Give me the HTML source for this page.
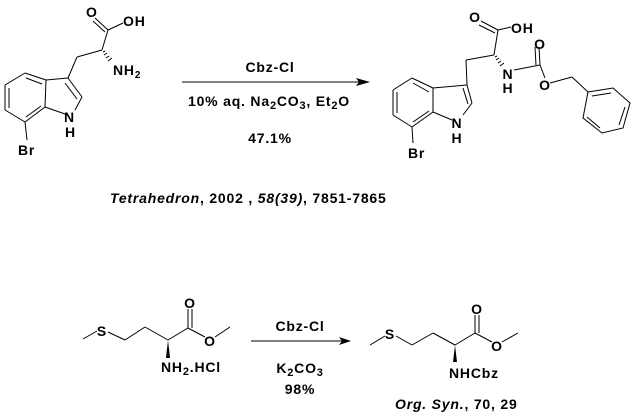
<!DOCTYPE html>
<html><head><meta charset="utf-8"><style>
html,body{margin:0;padding:0;background:#fff}
svg{display:block}
text{font-family:"Liberation Sans",Arial,sans-serif;font-size:14px;fill:#000}
.b{font-weight:bold;font-size:14px;letter-spacing:0.8px}
</style></head><body>
<svg width="636" height="417" viewBox="0 0 636 417" xmlns="http://www.w3.org/2000/svg">
<g stroke="#000" stroke-width="1" fill="none">
<line x1="95" y1="18" x2="108" y2="30"/><line x1="93" y1="21" x2="105" y2="32"/>
<line x1="108" y1="30" x2="123" y2="23"/>
<line x1="108" y1="30" x2="102" y2="50"/>
<line x1="102" y1="50" x2="77" y2="57"/>
<line x1="77" y1="57" x2="68" y2="78"/>
<line x1="68" y1="78" x2="82" y2="97"/><line x1="65" y1="83" x2="77" y2="99"/>
<line x1="82" y1="97" x2="75" y2="110"/>
<line x1="65" y1="114" x2="45" y2="107"/>
<line x1="45" y1="107" x2="46" y2="80"/>
<line x1="46" y1="80" x2="68" y2="78"/>
<line x1="46" y1="80" x2="25" y2="73"/><line x1="42" y1="84" x2="26" y2="78"/>
<line x1="25" y1="73" x2="5" y2="85"/>
<line x1="5" y1="85" x2="5" y2="110"/><line x1="9" y1="88" x2="9" y2="108"/>
<line x1="5" y1="110" x2="25" y2="122"/>
<line x1="25" y1="122" x2="45" y2="107"/><line x1="26" y1="117" x2="41" y2="106"/>
<line x1="25" y1="122" x2="27" y2="140"/>
<line x1="182" y1="82" x2="362" y2="82"/>
<line x1="481" y1="21" x2="498" y2="30"/><line x1="479" y1="25" x2="495" y2="33"/>
<line x1="498" y1="30" x2="511" y2="27"/>
<line x1="498" y1="30" x2="494" y2="55"/>
<line x1="494" y1="55" x2="466" y2="60"/>
<line x1="466" y1="60" x2="467" y2="85"/>
<line x1="467" y1="85" x2="472" y2="103"/><line x1="463" y1="88" x2="468" y2="104"/>
<line x1="472" y1="103" x2="463" y2="115"/>
<line x1="452" y1="120" x2="433" y2="112"/>
<line x1="433" y1="112" x2="433" y2="88"/>
<line x1="433" y1="88" x2="467" y2="85"/>
<line x1="433" y1="88" x2="412" y2="78"/><line x1="429" y1="92" x2="413" y2="83"/>
<line x1="412" y1="78" x2="393" y2="90"/>
<line x1="393" y1="90" x2="393" y2="115"/><line x1="397" y1="92" x2="397" y2="113"/>
<line x1="393" y1="115" x2="412" y2="127"/>
<line x1="412" y1="127" x2="433" y2="112"/><line x1="413" y1="122" x2="429" y2="111"/>
<line x1="412" y1="127" x2="413" y2="143"/>
<line x1="514" y1="70" x2="540" y2="65"/>
<line x1="540" y1="65" x2="539" y2="47"/><line x1="536" y1="65" x2="535" y2="47"/>
<line x1="540" y1="65" x2="545" y2="78"/>
<line x1="550" y1="83" x2="572" y2="77"/>
<line x1="572" y1="77" x2="588" y2="92"/>
<polygon points="588,92 613,88 630,103 623,128 602,133 583,118"/>
<line x1="592" y1="96" x2="611" y2="93"/>
<line x1="625" y1="107" x2="619" y2="125"/>
<line x1="600" y1="128" x2="587" y2="117"/>
<line x1="83" y1="339" x2="97" y2="331"/>
<line x1="108" y1="332" x2="125" y2="340"/>
<line x1="125" y1="340" x2="145" y2="327"/>
<line x1="145" y1="327" x2="168" y2="340"/>
<line x1="168" y1="340" x2="188" y2="328"/>
<line x1="188" y1="328" x2="188" y2="309"/><line x1="192" y1="328" x2="192" y2="309"/>
<line x1="188" y1="328" x2="205" y2="337"/>
<line x1="215" y1="337" x2="230" y2="327"/>
<line x1="251" y1="341" x2="344" y2="341"/>
<line x1="370" y1="345" x2="385" y2="336"/>
<line x1="396" y1="336" x2="412" y2="345"/>
<line x1="412" y1="345" x2="433" y2="333"/>
<line x1="433" y1="333" x2="455" y2="345"/>
<line x1="455" y1="345" x2="475" y2="333"/>
<line x1="475" y1="333" x2="475" y2="315"/><line x1="479" y1="333" x2="479" y2="315"/>
<line x1="475" y1="333" x2="492" y2="342"/>
<line x1="502" y1="342" x2="518" y2="333"/>
</g>
<g stroke="#000" stroke-width="1">
<line x1="103" y1="52" x2="105" y2="51"/><line x1="104" y1="55" x2="107" y2="53"/><line x1="106" y1="58" x2="109" y2="56"/><line x1="108" y1="61" x2="112" y2="58"/>
<line x1="495" y1="57" x2="497" y2="56"/><line x1="496" y1="60" x2="499" y2="58"/><line x1="498" y1="63" x2="501" y2="61"/><line x1="500" y1="66" x2="504" y2="63"/>
</g>
<polygon points="168,340 166,358 170,358" fill="#000"/>
<polygon points="455,345 453,362 457,362" fill="#000"/>
<polygon points="370,82 356,78 359,82 356,86" fill="#000"/>
<polygon points="351,341 339,337 342,341 339,345" fill="#000"/>
<text x="86" y="17" class="b">O</text>
<text x="123" y="26" class="b">OH</text>
<text x="113" y="75" class="b">NH<tspan font-size="10" dy="3">2</tspan></text>
<text x="64" y="122" class="b">N</text>
<text x="65" y="137" class="b">H</text>
<text x="18" y="155" class="b">Br</text>

<text x="270" y="72" class="b" text-anchor="middle">Cbz-Cl</text>
<text x="188" y="106" class="b">10% aq. Na<tspan font-size="11" dy="3">2</tspan><tspan dy="-3">CO</tspan><tspan font-size="11" dy="3">3</tspan><tspan dy="-3">, Et</tspan><tspan font-size="11" dy="3">2</tspan><tspan dy="-3">O</tspan></text>
<text x="270" y="143" class="b" text-anchor="middle">47.1%</text>

<text x="475" y="22" class="b" text-anchor="middle">O</text>
<text x="511" y="33" class="b">OH</text>
<text x="540" y="49" class="b" text-anchor="middle">O</text>
<text x="508" y="79" class="b" text-anchor="middle">N</text>
<text x="508" y="93" class="b" text-anchor="middle">H</text>
<text x="545" y="90" class="b" text-anchor="middle">O</text>
<text x="457" y="128" class="b" text-anchor="middle">N</text>
<text x="457" y="143" class="b" text-anchor="middle">H</text>
<text x="408" y="158" class="b">Br</text>

<text x="110" y="203" class="b"><tspan font-style="italic">Tetrahedron</tspan>, 2002 , <tspan font-style="italic">58(39)</tspan>, 7851-7865</text>

<text x="102" y="336" class="b" text-anchor="middle">S</text>
<text x="190" y="308" class="b" text-anchor="middle">O</text>
<text x="210" y="346" class="b" text-anchor="middle">O</text>
<text x="161" y="372" class="b">NH<tspan font-size="11" dy="3">2</tspan><tspan dy="-3">.HCl</tspan></text>

<text x="300" y="331" class="b" text-anchor="middle">Cbz-Cl</text>
<text x="300" y="373" class="b" text-anchor="middle">K<tspan font-size="11" dy="3">2</tspan><tspan dy="-3">CO</tspan><tspan font-size="11" dy="3">3</tspan></text>
<text x="300" y="394" class="b" text-anchor="middle">98%</text>

<text x="390" y="339" class="b" text-anchor="middle">S</text>
<text x="477" y="314" class="b" text-anchor="middle">O</text>
<text x="497" y="351" class="b" text-anchor="middle">O</text>
<text x="449" y="378" class="b">NHCbz</text>
<text x="395" y="409" class="b"><tspan font-style="italic">Org. Syn.</tspan>, 70, 29</text>
</svg>
</body></html>
